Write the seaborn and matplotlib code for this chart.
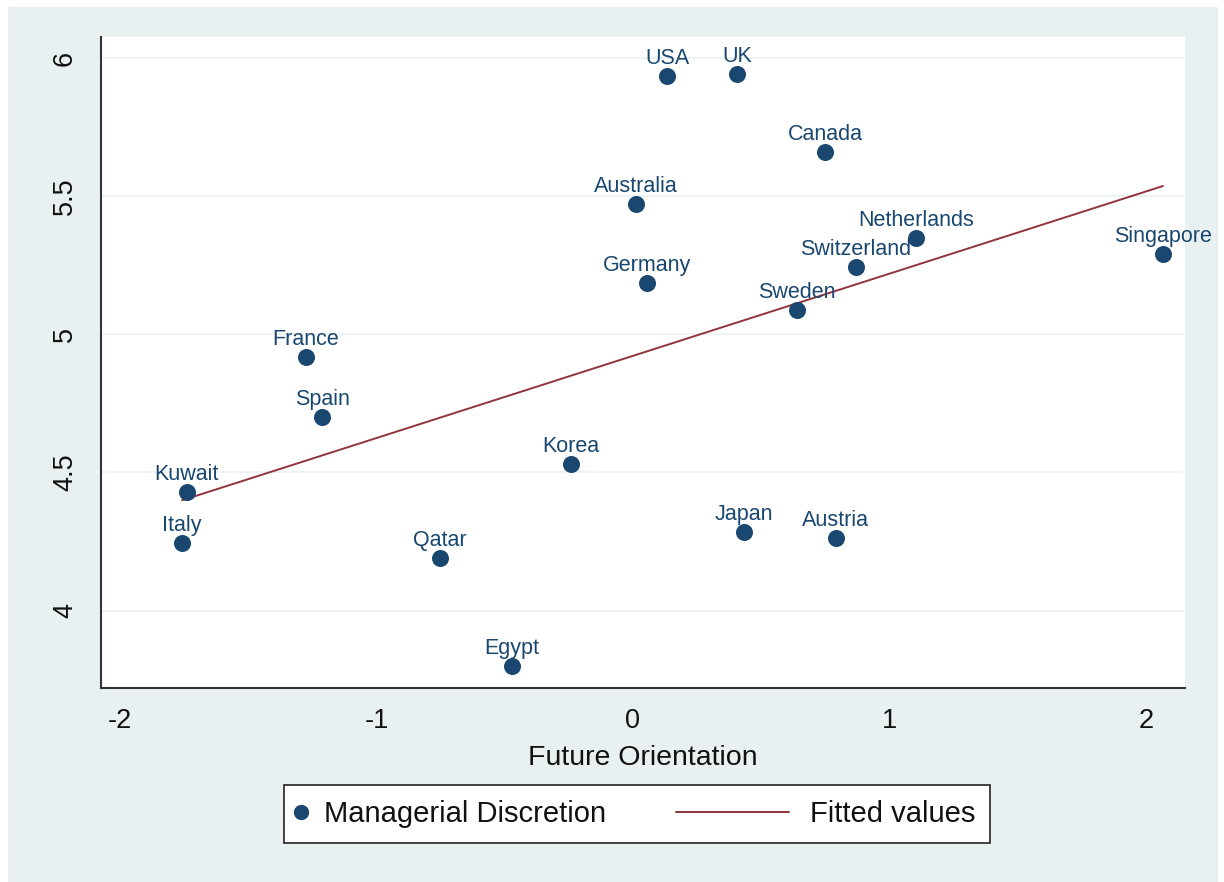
import matplotlib
matplotlib.use("Agg")
import matplotlib.pyplot as plt
from matplotlib.patches import Rectangle
from matplotlib.lines import Line2D
from matplotlib.legend_handler import HandlerLine2D
import seaborn as sns
import pandas as pd

countries = ["USA", "UK", "Canada", "Australia", "Netherlands", "Switzerland",
             "Singapore", "Germany", "Sweden", "France", "Spain", "Korea",
             "Kuwait", "Italy", "Qatar", "Japan", "Austria", "Egypt"]
future_orientation = [0.133, 0.405, 0.749, 0.012, 1.103, 0.869,
                      2.066, 0.055, 0.639, -1.275, -1.212, -0.242,
                      -1.739, -1.758, -0.752, 0.433, 0.791, -0.472]
managerial_discretion = [5.935, 5.942, 5.660, 5.472, 5.349, 5.244,
                         5.291, 5.186, 5.089, 4.919, 4.702, 4.532,
                         4.430, 4.246, 4.192, 4.286, 4.264, 3.801]
x_ticks = [-2, -1, 0, 1, 2]
y_ticks = [4, 4.5, 5, 5.5, 6]
y_tick_labels = ["4", "4.5", "5", "5.5", "6"]
legend_labels = ["Managerial Discretion", "Fitted values"]

df = pd.DataFrame({"country": countries, "fo": future_orientation,
                   "md": managerial_discretion})

sns.set_theme(style="white")
plt.rcParams['font.family'] = ['Liberation Sans', 'DejaVu Sans']
plt.rcParams['axes.unicode_minus'] = False

NAVY = "#1a476f"
MAROON = "#90353b"
BG = "#e9f0f2"


class LongLineHandler(HandlerLine2D):
    """Line handle that extends to the left of its (narrow) handle box."""
    def create_artists(self, legend, orig_handle, xdescent, ydescent,
                       width, height, fontsize, trans):
        y = height / 2 - ydescent
        ln = Line2D([-xdescent - 3.7 * fontsize, -xdescent + width], [y, y],
                    color=orig_handle.get_color(), lw=orig_handle.get_linewidth())
        ln.set_transform(trans)
        return [ln]


fig = plt.figure(figsize=(12.24, 8.82), dpi=100, facecolor="white")
fig.patches.append(Rectangle((8/1224, 0), (1218-8)/1224, 1-7/882,
                             transform=fig.transFigure, facecolor=BG,
                             edgecolor="none", zorder=-10))
ax = fig.add_axes([101/1224, 1-688/882, (1185-101)/1224, (688-37)/882])
ax.set_facecolor("white")

sns.regplot(data=df, x="fo", y="md", ax=ax, ci=None, scatter=False,
            line_kws=dict(color=MAROON, lw=1.4, zorder=2), truncate=True)
sns.scatterplot(data=df, x="fo", y="md", ax=ax, color=NAVY, s=150,
                edgecolor=NAVY, linewidth=0, zorder=3, legend=False)

for c, xv, yv in zip(countries, future_orientation, managerial_discretion):
    ax.annotate(c, (xv, yv), xytext=(0, 12.5), textcoords="offset points",
                ha="center", va="center", color=NAVY, fontsize=15.5, zorder=4)

ax.set_xlim(-2.074, 2.152)
ax.set_ylim(3.72, 6.076)
ax.set_xticks(x_ticks)
ax.set_yticks(y_ticks)
ax.set_yticklabels(y_tick_labels, rotation=90, va="center")
ax.tick_params(axis="both", direction="out", length=8.5, width=1.2,
               color="#333333", labelsize=19.5, labelcolor="#111111")
ax.tick_params(axis="x", pad=6)
ax.tick_params(axis="y", pad=8)
ax.yaxis.grid(True, color="#edf2f3", lw=1.5)
ax.set_axisbelow(True)
for s in ["top", "right"]:
    ax.spines[s].set_visible(False)
for s in ["left", "bottom"]:
    ax.spines[s].set_color("#333333")
    ax.spines[s].set_linewidth(1.5)
ax.set_xlabel("Future Orientation", fontsize=20.5, color="#111111", labelpad=8)
ax.set_ylabel("")

mk = Line2D([], [], marker="o", color=NAVY, linestyle="none", markersize=10)
fl = Line2D([], [], color=MAROON, lw=1.4)
leg = ax.legend([mk, fl], legend_labels,
                handler_map={fl: LongLineHandler()},
                loc="center", bbox_to_anchor=((637-101)/1084, (688-814)/(688-37)),
                ncol=2, fontsize=21, frameon=True, fancybox=False,
                edgecolor="#222222", facecolor="white", framealpha=1,
                columnspacing=6.1, handlelength=0.17, borderpad=0.5,
                handletextpad=0.7)
leg.get_frame().set_linewidth(1.2)
for t in leg.get_texts():
    t.set_color("#111111")

fig.savefig("out.png", dpi=100, facecolor=fig.get_facecolor())
